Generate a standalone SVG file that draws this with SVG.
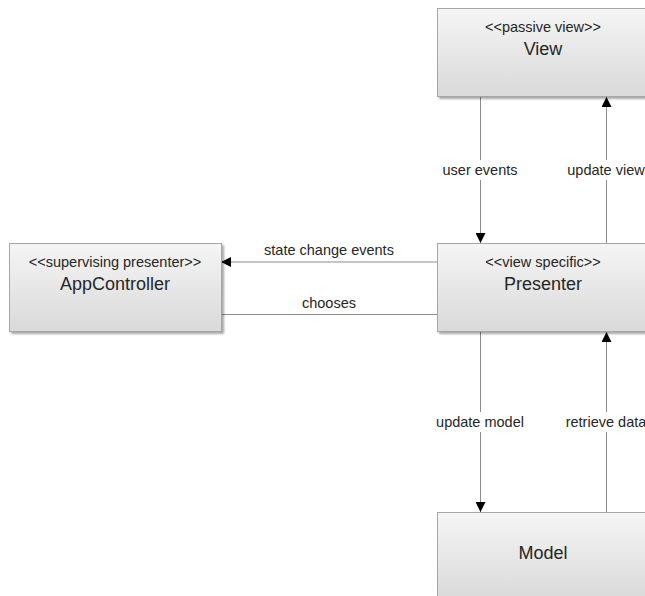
<svg xmlns="http://www.w3.org/2000/svg" width="645" height="596" viewBox="0 0 645 596">
<defs>
<linearGradient id="g" x1="0" y1="0" x2="0" y2="1">
<stop offset="0" stop-color="#f5f5f5"/>
<stop offset="1" stop-color="#d9d9d9"/>
</linearGradient>
<filter id="sh" x="-10%" y="-10%" width="130%" height="130%">
<feGaussianBlur in="SourceAlpha" stdDeviation="1"/>
<feOffset dx="1.5" dy="1.5"/>
<feComponentTransfer><feFuncA type="linear" slope="0.35"/></feComponentTransfer>
<feMerge><feMergeNode/><feMergeNode in="SourceGraphic"/></feMerge>
</filter>
<marker id="ah" markerWidth="10" markerHeight="10" viewBox="0 0 10 10" refX="10" refY="5" orient="auto" markerUnits="userSpaceOnUse">
<path d="M0,0 L10,5 L0,10 Z" fill="#000"/>
</marker>
</defs>
<style>
.box{fill:url(#g);stroke:#a6a6a6;stroke-width:1;filter:url(#sh)}
.st{font-family:"Liberation Sans",Arial,sans-serif;font-size:14.5px;fill:#262626;text-anchor:middle}
.nm{font-family:"Liberation Sans",Arial,sans-serif;font-size:18px;fill:#262626;text-anchor:middle}
.lb{font-family:"Liberation Sans",Arial,sans-serif;font-size:14.5px;fill:#262626;text-anchor:middle}
.ln{stroke:#8c8c8c;stroke-width:1;fill:none}
</style>
<rect width="645" height="596" fill="#fff"/>
<g id="connectors">
<line class="ln" x1="480.5" y1="97" x2="480.5" y2="243" marker-end="url(#ah)"/>
<line class="ln" x1="606.5" y1="243" x2="606.5" y2="97" marker-end="url(#ah)"/>
<line class="ln" x1="437" y1="262" x2="221" y2="262" marker-end="url(#ah)"/>
<line class="ln" x1="437" y1="314.5" x2="221" y2="314.5"/>
<line class="ln" x1="480.5" y1="332" x2="480.5" y2="512" marker-end="url(#ah)"/>
<line class="ln" x1="606.5" y1="512" x2="606.5" y2="332" marker-end="url(#ah)"/>
<rect x="438" y="160" width="85" height="20" fill="#fff"/>
<rect x="563" y="160" width="90" height="20" fill="#fff"/>
<rect x="432" y="412" width="97" height="20" fill="#fff"/>
<rect x="560" y="412" width="95" height="20" fill="#fff"/>
<text class="lb" x="480" y="175">user events</text>
<text class="lb" x="606" y="175">update view</text>
<text class="lb" x="329" y="255">state change events</text>
<text class="lb" x="329" y="308">chooses</text>
<text class="lb" x="480" y="427">update model</text>
<text class="lb" x="606" y="427">retrieve data</text>
</g>
<g id="view">
<rect class="box" x="437.5" y="8.5" width="212" height="88"/>
<text class="st" x="543" y="32">&lt;&lt;passive view&gt;&gt;</text>
<text class="nm" x="543" y="55">View</text>
</g>
<g id="appcontroller">
<rect class="box" x="9.5" y="243.5" width="212" height="88"/>
<text class="st" x="115" y="267">&lt;&lt;supervising presenter&gt;&gt;</text>
<text class="nm" x="115" y="290">AppController</text>
</g>
<g id="presenter">
<rect class="box" x="437.5" y="243.5" width="212" height="88"/>
<text class="st" x="543" y="267">&lt;&lt;view specific&gt;&gt;</text>
<text class="nm" x="543" y="290">Presenter</text>
</g>
<g id="model">
<rect class="box" x="437.5" y="512.5" width="212" height="88"/>
<text class="nm" x="543" y="559">Model</text>
</g>
</svg>
